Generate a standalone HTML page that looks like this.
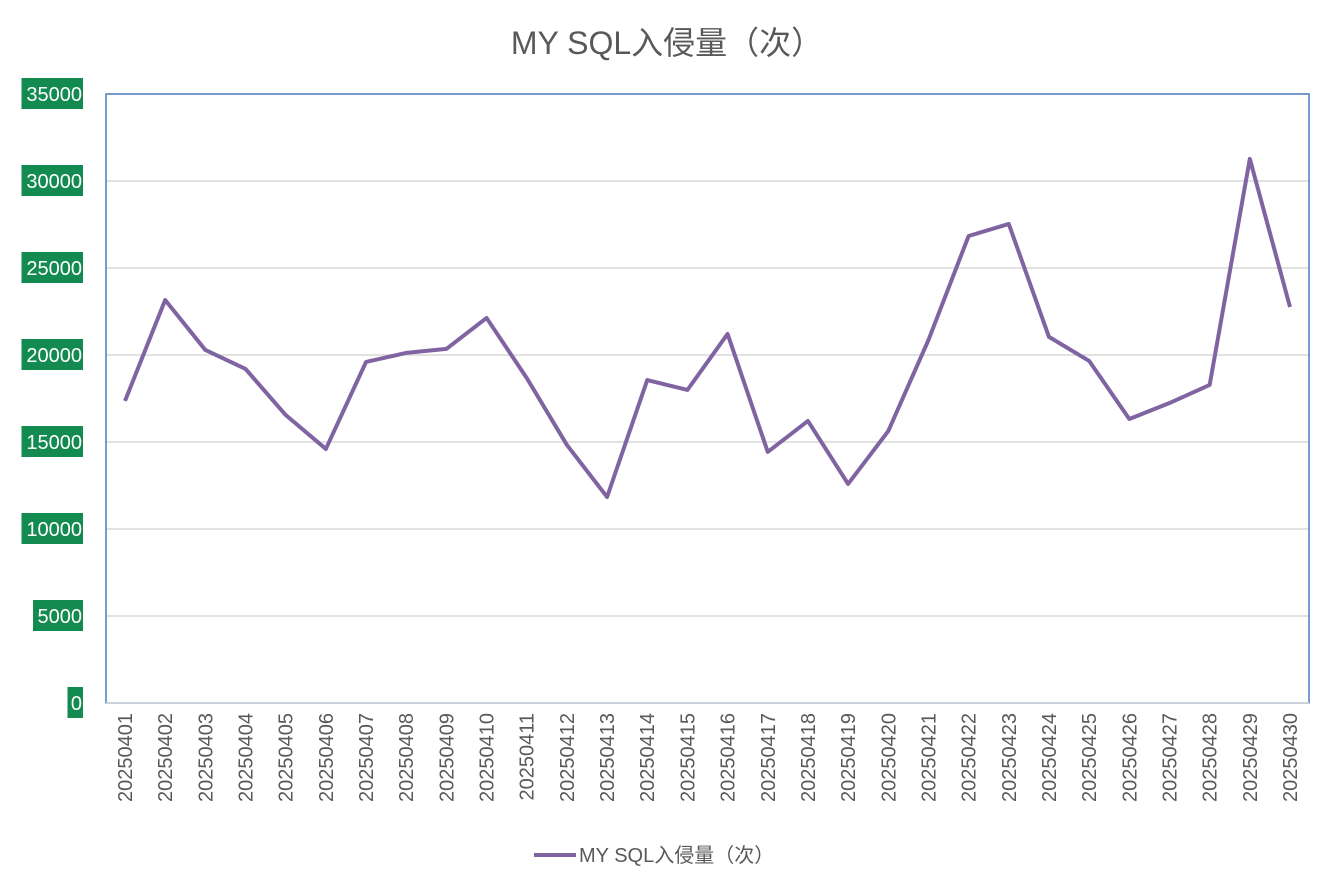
<!DOCTYPE html>
<html><head><meta charset="utf-8"><style>
body{margin:0;background:#fff;}
svg{display:block;font-family:"Liberation Sans","Noto Sans CJK SC",sans-serif;}
</style></head><body>
<svg id="chart" width="1334" height="889">
<text x="667" y="54" text-anchor="middle" font-size="32" fill="#595959">MY SQL入侵量（次）</text>
<g id="grid"></g><g id="ylabels"></g><g id="xlabels"></g>
<rect x="106" y="94" width="1203" height="609" fill="none" stroke="#4f7cc4" stroke-width="1.5"/>
<line x1="106" y1="703" x2="1309" y2="703" stroke="#d9d9d9" stroke-width="1.5"/>
<polyline id="series" fill="none" stroke="#8064a2" stroke-width="4" stroke-linejoin="round"/>
<g>
<line x1="534" y1="855" x2="576" y2="855" stroke="#8064a2" stroke-width="4"/>
<text x="579" y="862" font-size="20" fill="#595959">MY SQL入侵量（次）</text>
</g>
</svg>
<script>
const categories=["20250401","20250402","20250403","20250404","20250405","20250406","20250407","20250408","20250409","20250410","20250411","20250412","20250413","20250414","20250415","20250416","20250417","20250418","20250419","20250420","20250421","20250422","20250423","20250424","20250425","20250426","20250427","20250428","20250429","20250430"];
const values=[17360,23160,20290,19200,16550,14600,19600,20120,20350,22130,18680,14830,11840,18560,17990,21210,14430,16210,12590,15630,20860,26840,27530,21040,19660,16320,17240,18280,31270,22760];
const yTicks=[0,5000,10000,15000,20000,25000,30000,35000];
const NS="http://www.w3.org/2000/svg";
const L=106,R=1309,T=94,B=703,yMax=35000;
const x=i=>125+i*(1290-125)/(categories.length-1);
const y=v=>B-(v/yMax)*(B-T);
const grid=document.getElementById('grid'),yl=document.getElementById('ylabels'),xl=document.getElementById('xlabels');
yTicks.forEach(t=>{
 if(t>0){const ln=document.createElementNS(NS,'line');
 ln.setAttribute('x1',L);ln.setAttribute('x2',R);ln.setAttribute('y1',y(t));ln.setAttribute('y2',y(t));
 ln.setAttribute('stroke','#d9d9d9');ln.setAttribute('stroke-width','1.5');
 
 
 grid.appendChild(ln);}
 const s=String(t);const w=s.length*11.5+4;
 const r=document.createElementNS(NS,'rect');
 r.setAttribute('x',83-w);r.setAttribute('y',y(t)-16);r.setAttribute('width',w);r.setAttribute('height',31);r.setAttribute('fill','#138a4f');
 
 
 yl.appendChild(r);
 const tx=document.createElementNS(NS,'text');
 tx.setAttribute('x',82);tx.setAttribute('y',y(t)+7);tx.setAttribute('text-anchor','end');tx.setAttribute('font-size','20');tx.setAttribute('fill','#fff');
 tx.textContent=s;
 
 
 yl.appendChild(tx);
});
categories.forEach((c,i)=>{
 const tx=document.createElementNS(NS,'text');
 tx.setAttribute('transform',`translate(${x(i)+7},713) rotate(-90)`);
 tx.setAttribute('text-anchor','end');tx.setAttribute('font-size','20');tx.setAttribute('fill','#595959');
 tx.textContent=c;
 
 
 xl.appendChild(tx);
});
document.getElementById('series').setAttribute('points',values.map((v,i)=>x(i)+','+y(v)).join(' '));
</script>
</body></html>
